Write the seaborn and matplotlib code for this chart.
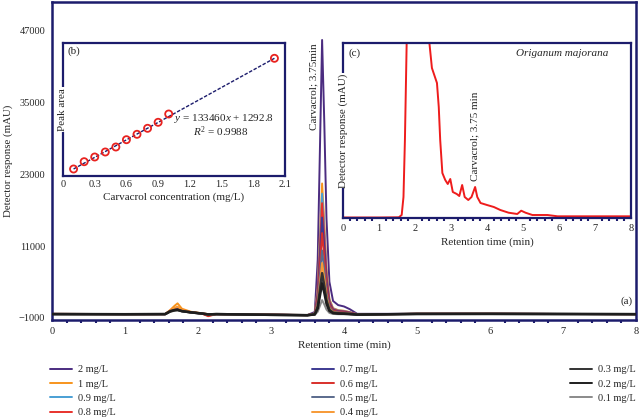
import numpy as np
import pandas as pd
import matplotlib
matplotlib.use("Agg")
import matplotlib.pyplot as plt
from matplotlib.lines import Line2D
from matplotlib.ticker import MultipleLocator
import seaborn as sns

sns.set_style("white")
plt.rcParams['font.family'] = ['Liberation Serif', 'DejaVu Serif']
plt.rcParams['mathtext.fontset'] = 'custom'
plt.rcParams['mathtext.rm'] = 'Liberation Serif'
plt.rcParams['mathtext.it'] = 'Liberation Serif:italic'

NAVY = "#1c1c6c"

# ---------------- main chromatograms (a) ----------------
time_min = [0.0, 1.0, 1.55, 1.62, 1.68, 1.72, 1.78, 1.90, 2.05, 2.14, 2.25, 3.00, 3.50,
            3.60, 3.64, 3.67, 3.70, 3.73, 3.76, 3.80, 3.85, 3.92, 4.00, 4.08, 4.18,
            5.00, 6.00, 7.00, 8.00]

conc_labels = ["2 mg/L", "1 mg/L", "0.9 mg/L", "0.8 mg/L", "0.7 mg/L", "0.6 mg/L",
               "0.5 mg/L", "0.4 mg/L", "0.3 mg/L", "0.2 mg/L", "0.1 mg/L"]
conc_colors = ["#4b2c80", "#f7941d", "#4a9fd4", "#e8322c", "#3d3a92", "#d8302b",
               "#5a6a8c", "#f79a36", "#333333", "#1e1e1e", "#8a8a8a"]

resp_2 = [-300, -350, -350, 150, 350, 450, 150, -50, -250, -350, -350, -450, -500,
          10, 8740, 27120, 45500, 31715, 15633, 5064, 1848, 1158, 929, 469, -300,
          -300, -300, -320, -350]
resp_1 = [-300, -350, -350, 350, 1050, 1450, 550, 50, -200, -350, -350, -450, -500,
          -230, 3940, 12720, 21500, 14915, 7233, 2184, 648, 318, 209, -11, -384,
          -300, -300, -320, -350]
resp_09 = [-320, -350, -350, 200, 450, 550, 200, -50, -250, -400, -350, -450, -520,
           -247, 3600, 11700, 19800, 13725, 6638, 1980, 563, 259, 158, -45, -389,
           -300, -300, -320, -350]
resp_08 = [-320, -350, -350, 250, 600, 800, 300, 0, -250, -700, -350, -450, -520,
           -264, 3280, 10740, 18200, 12605, 6078, 1788, 483, 203, 110, -77, -394,
           -300, -300, -330, -350]
resp_07 = [-330, -360, -350, 150, 400, 500, 200, -50, -250, -450, -350, -460, -520,
           -288, 2800, 9300, 15800, 10925, 5238, 1500, 363, 119, 38, -125, -401,
           -310, -300, -330, -350]
resp_06 = [-330, -360, -350, 200, 500, 650, 250, -50, -250, -600, -350, -460, -520,
           -314, 2280, 7740, 13200, 9105, 4328, 1188, 233, 28, -40, -177, -409,
           -310, -300, -330, -350]
resp_05 = [-340, -360, -350, 150, 350, 450, 150, -50, -250, -400, -350, -460, -530,
           -343, 1700, 6000, 10300, 7075, 3313, 840, 88, -74, -127, -235, -418,
           -310, -310, -330, -360]
resp_04 = [-340, -360, -350, 250, 700, 900, 350, 0, -250, -450, -350, -460, -530,
           -364, 1280, 4740, 8200, 5605, 2578, 588, -17, -147, -190, -277, -424,
           -310, -310, -330, -360]
resp_03 = [-350, -370, -350, 150, 350, 400, 150, -50, -250, -400, -350, -470, -530,
           -381, 940, 3720, 6500, 4415, 1983, 384, -102, -207, -241, -311, -429,
           -320, -310, -330, -360]
resp_02 = [-350, -370, -350, 100, 300, 350, 150, -50, -250, -400, -350, -470, -540,
           -398, 600, 2700, 4800, 3225, 1388, 180, -187, -266, -292, -345, -434,
           -320, -310, -340, -360]
resp_01 = [-360, -380, -360, 50, 200, 250, 100, -100, -300, -400, -380, -480, -540,
           -426, 40, 1020, 2000, 1265, 408, -156, -327, -364, -376, -401, -443,
           -330, -320, -340, -370]

all_resp = [resp_2, resp_1, resp_09, resp_08, resp_07, resp_06, resp_05, resp_04,
            resp_03, resp_02, resp_01]

# ---------------- calibration inset (b) ----------------
cal_conc = [0.1, 0.2, 0.3, 0.4, 0.5, 0.6, 0.7, 0.8, 0.9, 1.0, 2.0]
cal_area = [14640, 31360, 42130, 53580, 65030, 81750, 94120, 107860, 121600, 140620, 268210]
fit_slope = 133460
fit_intercept = 1292.8

# ---------------- sample chromatogram inset (c) ----------------
samp_time = [0.0, 1.0, 1.55, 1.63, 1.68, 1.72, 1.77, 1.85, 2.30, 2.40, 2.47, 2.61, 2.66,
             2.70, 2.76, 2.84, 2.91, 2.98, 3.05, 3.16, 3.23, 3.31, 3.38, 3.48, 3.57,
             3.67, 3.73, 3.82, 4.00, 4.19, 4.37, 4.60, 4.84, 4.95, 5.07, 5.26, 5.68,
             5.96, 8.00]
samp_resp = [5, 5, 7, 30, 210, 780, 1780, 3000, 3000, 1750, 1500, 1350, 1110,
             780, 450, 380, 340, 390, 260, 240, 220, 330, 210, 180, 210,
             310, 210, 150, 130, 110, 80, 53, 40, 73, 53, 30, 30,
             17, 17]

W, H = 639, 418
fig = plt.figure(figsize=(W / 100, H / 100), dpi=100)

def style_spines(ax, lw=1.8):
    for s in ax.spines.values():
        s.set_color(NAVY)
        s.set_linewidth(lw)
        s.set_visible(True)

# main axes
ax = fig.add_axes([52 / W, 1 - 320 / H, (636 - 52) / W, (320 - 2) / H])
rows = []
for lab, resp in zip(conc_labels, all_resp):
    for t, v in zip(time_min, resp):
        rows.append({"t": t, "v": v, "conc": lab})
df = pd.DataFrame(rows)
palette = dict(zip(conc_labels, conc_colors))
sns.lineplot(data=df, x="t", y="v", hue="conc", palette=palette, hue_order=conc_labels,
             estimator=None, sort=False, legend=False, linewidth=1.4, ax=ax)
for ln, lab in zip(ax.get_lines(), conc_labels):
    if lab in ("0.3 mg/L", "0.2 mg/L"):
        ln.set_linewidth(1.8)
        ln.set_zorder(3)

ax.set_xlim(0, 8)
ax.set_ylim(-1335, 51850)
ax.set_yticks([-1000, 11000, 23000, 35000, 47000])
ax.set_xticks(range(0, 9))
ax.xaxis.set_minor_locator(MultipleLocator(0.2))
ax.tick_params(axis="both", which="major", direction="out", length=3, width=1.5,
               color=NAVY, labelsize=7.5, pad=2)
ax.tick_params(axis="x", which="minor", direction="out", length=2.5, width=1.5,
               color=NAVY, bottom=True)
ax.set_xlabel("Retention time (min)", fontsize=8, labelpad=3)
ax.set_ylabel("Detector response (mAU)", fontsize=7.8, labelpad=4)
style_spines(ax)
ax.text(3.59, 45000, "Carvacrol; 3.75min", rotation=90, ha="center", va="top", fontsize=8)
ax.text(0.995, 0.06, "(a)", transform=ax.transAxes, ha="right", va="center", fontsize=8)

# legends (three columns)
handles = [Line2D([0], [0], color=c, lw=1.4) for c in conc_colors]
cols = [(0, 4, 50), (4, 8, 312), (8, 11, 570)]
for i0, i1, x0 in cols:
    leg = fig.legend(handles[i0:i1], conc_labels[i0:i1], loc="upper left",
                     bbox_to_anchor=(x0 / W, 1 - 365 / H), frameon=False,
                     fontsize=7.4, handlelength=2.1, handletextpad=0.6,
                     labelspacing=0.5, borderaxespad=0, borderpad=0)

# inset (b)
axb = fig.add_axes([63 / W, 1 - 176 / H, (285 - 63) / W, (176 - 43) / H])
x_fit = np.array([min(cal_conc), max(cal_conc)])
axb.plot(x_fit, fit_slope * x_fit + fit_intercept, color=NAVY, lw=1.0, ls=(0, (2.5, 1.2)))
sns.scatterplot(x=cal_conc, y=cal_area, ax=axb, marker="o", s=26, facecolor="none",
                edgecolor="#e8221f", linewidth=1.3, zorder=3)
axb.set_xlim(0, 2.1)
axb.set_ylim(-1400, 303260)
axb.set_xticks([0, 0.3, 0.6, 0.9, 1.2, 1.5, 1.8, 2.1])
axb.set_xticklabels(["0", "0.3", "0.6", "0.9", "1.2", "1.5", "1.8", "2.1"])
axb.set_yticks([])
axb.tick_params(axis="x", which="major", direction="out", length=0, labelsize=7.5, pad=3)
axb.set_xlabel("Carvacrol concentration (mg/L)", fontsize=8, labelpad=2)
style_spines(axb, 1.6)
axb.text(0.02, 0.94, "(b)", transform=axb.transAxes, ha="left", va="center", fontsize=8)
axb.text(0.0, 0.5, "Peak area", transform=axb.transAxes, rotation=90, ha="center",
         va="center", fontsize=8,
         bbox=dict(facecolor="white", edgecolor="none", pad=0.5))
axb.text(0.95, 0.43, "$y$ = 133460$x$ + 1292.8", transform=axb.transAxes, ha="right",
         va="center", fontsize=8)
axb.text(0.71, 0.33, "$R^2$ = 0.9988", transform=axb.transAxes, ha="center",
         va="center", fontsize=8)

# inset (c)
axc = fig.add_axes([343 / W, 1 - 218 / H, (631 - 343) / W, (218 - 43) / H])
sns.lineplot(x=samp_time, y=samp_resp, ax=axc, color="#ee1c1c", linewidth=1.4,
             estimator=None, sort=False)
axc.set_xlim(0, 8)
axc.set_ylim(0, 1750)
axc.set_xticks(range(0, 9))
axc.xaxis.set_minor_locator(MultipleLocator(0.2))
axc.set_yticks([])
axc.tick_params(axis="x", which="major", direction="out", length=2.5, width=1.5,
                color=NAVY, labelsize=7.5, pad=2)
axc.tick_params(axis="x", which="minor", direction="out", length=2.5, width=1.5,
                color=NAVY, bottom=True)
axc.set_xlabel("Retention time (min)", fontsize=8, labelpad=3)
style_spines(axc, 1.6)
axc.text(0.02, 0.94, "(c)", transform=axc.transAxes, ha="left", va="center", fontsize=8)
axc.text(0.92, 0.94, "Origanum majorana", transform=axc.transAxes, ha="right",
         va="center", fontsize=8, style="italic")
axc.text(0.0, 0.5, "Detector response (mAU)", transform=axc.transAxes, rotation=90,
         ha="center", va="center", fontsize=8,
         bbox=dict(facecolor="white", edgecolor="none", pad=0.5))
axc.text(3.67, 370, "Carvacrol; 3.75 min", rotation=90, ha="center", va="bottom",
         fontsize=8)

fig.savefig("out.png", dpi=100)
